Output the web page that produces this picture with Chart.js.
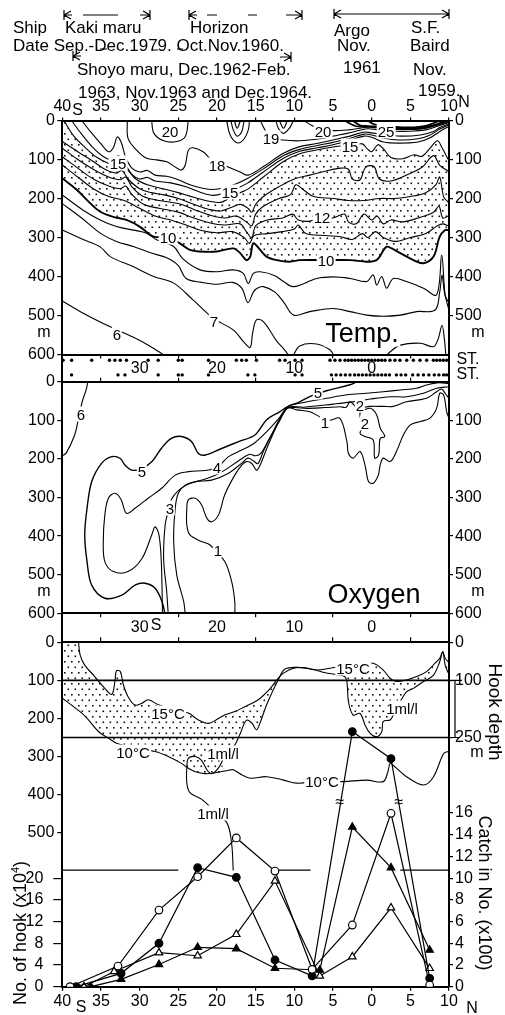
<!DOCTYPE html>
<html><head><meta charset="utf-8">
<script src="https://cdn.jsdelivr.net/npm/chart.js@4.4.1/dist/chart.umd.min.js"></script>
<style>
html,body{margin:0;padding:0;background:#fff;}
#wrap{position:relative;width:505px;height:1015px;overflow:hidden;background:#fff;font-family:'Liberation Sans',Arial,sans-serif;color:#000;}
canvas{position:absolute;left:0;top:0;}
.t{position:absolute;white-space:nowrap;line-height:1;}
.bg{background:#fff;padding:0 1px;}
svg{position:absolute;left:0;top:0;}
</style></head><body><div id="wrap">
<canvas id="cT" width="505" height="1015"></canvas>
<canvas id="cS" width="505" height="1015"></canvas>
<canvas id="cO" width="505" height="1015"></canvas>
<canvas id="cL" width="505" height="1015"></canvas>
<canvas id="cH" width="505" height="1015"></canvas>
<canvas id="cC" width="505" height="1015"></canvas>
</div>
<script>
// ================= DATA =================
const latTicks = [-40,-35,-30,-25,-20,-15,-10,-5,0,5,10];
const stripLabelLats = [-30,-20,-10,0];
const depthTicks = [0,100,200,300,400,500,600];
const hookDepthRightTicks = [0,100,250];
const hookRange = [100,250];
const hookAxisLabels = [0,4,8,12,16,20];          // No. of hook (x10^4)
const catchAxisLabels = [0,2,4,6,8,10,12,14,16];  // Catch in No. (x100)

// --- Temperature section: [latitude, depth m]
const temp6  = [[-40,463],[-37.3,494],[-33.8,529],[-30.8,556],[-28.7,578],[-26.8,602]];
const temp6b = [[-10.2,605],[-9.3,578],[-7.1,573],[-5.4,588],[-4.8,605]];
const temp6c = [[1.8,605],[2.4,593],[3.7,576],[6.3,571],[8,580],[8.6,560],[9.1,525],[9.4,560],[9.6,605]];
const temp7  = [[-40,281],[-37.3,305],[-35.1,324],[-33.8,349],[-30.8,375],[-28.2,400],[-25.6,417],[-23.1,460],[-20.5,507],[-17.9,537],[-16.4,571],[-15.7,582],[-15.4,546],[-14.9,511],[-14,516],[-12.3,565],[-11.4,585],[-10.6,605]];
const temp8  = [[-40,213],[-37.5,250],[-35,290],[-33,310],[-30.8,323],[-28.5,340],[-26.5,352],[-25,372],[-24,405],[-22,415],[-20,420],[-18,415],[-16.8,430],[-16,467],[-15.3,440],[-14.8,430],[-14,426],[-12.5,440],[-11.4,465],[-10.1,499],[-8,490],[-5,482],[-2.8,490],[-0.65,499],[1.5,502],[3.7,499],[5.8,490],[8.2,486],[8.8,440],[9.1,396],[9.4,440],[9.9,480]];
const temp9  = [[-40,191],[-37.3,230],[-35.1,255],[-33,272],[-30.8,281],[-29.1,289],[-27.8,306],[-25.6,323],[-24.4,355],[-22.2,383],[-20,388],[-17.9,383],[-16.6,392],[-15.95,418],[-15.3,392],[-14.4,388],[-12.5,398],[-11.4,413],[-10.1,426],[-7.1,405],[-5,401],[-2.8,405],[-0.65,413],[0.2,396],[0.65,422],[1.3,400],[1.94,430],[2.8,405],[4.5,413],[6.7,430],[8.4,447],[9.05,345],[9.5,447],[9.9,465]];
const temp10 = [[-40,148],[-38.1,178],[-36.4,212],[-35.1,234],[-33.4,247],[-31.7,255],[-30,272],[-28.2,298],[-26.5,298],[-24.8,315],[-23.5,332],[-22.2,336],[-20,336],[-17.9,328],[-17,340],[-16.2,358],[-15.7,349],[-15.3,315],[-14.4,332],[-13.6,349],[-12.3,358],[-10.6,362],[-9.3,358],[-5.8,358],[-2.8,358],[-0.6,362],[0.65,358],[1.9,324],[2.6,328],[3.7,340],[5.4,358],[6.7,366],[8,349],[8.8,298],[9.5,281],[9.9,281]];
const temp11 = [[-40,114],[-38,145],[-36,175],[-34,195],[-32,205],[-30,225],[-28,245],[-26,255],[-24,268],[-22,282],[-20,288],[-18,285],[-16.5,300],[-15.8,315],[-15.2,295],[-13.5,290],[-11.5,285],[-10,278],[-9.5,268],[-8.5,290],[-6,295],[-4,298],[-2.5,305],[-1.2,290],[-0.5,300],[0.5,285],[1.5,300],[3,310],[5,300],[7,290],[8.5,270],[9.2,265],[9.9,270]];
const temp12 = [[-40,93],[-38,122],[-36,150],[-34,168],[-32.5,175],[-31.8,168],[-31,190],[-29.5,215],[-27.5,225],[-25,235],[-23,250],[-21,262],[-19,268],[-17,265],[-16.2,285],[-15.5,300],[-15,270],[-13.5,255],[-11.5,250],[-10.2,240],[-9.5,255],[-8,258],[-6.5,247],[-5,250],[-3.5,240],[-3,260],[-2,265],[-1,240],[0,255],[0.7,245],[1.5,265],[2.5,255],[4,260],[6,250],[8,235],[8.7,220],[9.2,250],[9.9,245]];
const temp13 = [[-40,71],[-38,100],[-36,125],[-34,145],[-32.5,152],[-31.8,145],[-31,170],[-29.5,195],[-27.5,205],[-25,213],[-23,228],[-21,242],[-19,250],[-17.5,245],[-16.2,260],[-15.5,270],[-15,240],[-14,220],[-12,200],[-10.5,190],[-9.8,165],[-8.8,178],[-7.5,195],[-5,200],[-3,205],[-1,205],[1,200],[3,200],[5,195],[7,185],[8.3,165],[8.8,145],[9.3,195],[9.9,210]];
const temp14 = [[-40,54],[-38,80],[-36,105],[-34.5,125],[-33,135],[-32.3,128],[-31.5,150],[-30,175],[-28.5,185],[-27,190],[-25,200],[-23,215],[-21,228],[-19.5,232],[-18,222],[-17,215],[-16,225],[-15.5,235],[-15,215],[-14,195],[-12,170],[-10,150],[-8,140],[-6,130],[-4,122],[-3,125],[-2.5,150],[-1.5,152],[-0.8,120],[0.3,118],[1,150],[2.5,155],[4.5,140],[6.5,120],[8,90],[8.8,115],[9.9,130]];
const temp15 = [[-39.8,0],[-38.5,40],[-37,70],[-35.5,95],[-34,110],[-32.8,115],[-32.2,108],[-31.6,125],[-30.5,150],[-29,165],[-27,175],[-25,185],[-23,197],[-21,207],[-19.5,210],[-18.5,200],[-17,185],[-16,176],[-14,145],[-11.4,105],[-9.3,85],[-7,75],[-5,68],[-3,63],[-1.2,60],[-0.6,72],[0,80],[0.8,62],[1.5,72],[2.5,95],[4,98],[5.5,88],[6.5,92],[7.5,72],[8.5,52],[9.1,70],[9.9,100]];
const temp16 = [[-38.8,0],[-37.5,35],[-36,70],[-34.5,95],[-33.6,100],[-32.7,90],[-32.1,105],[-31,138],[-30,150],[-29,146],[-28,155],[-26,160],[-24,170],[-22,185],[-20.5,192],[-19,186],[-17.5,175],[-16,160],[-14,132],[-11.4,97],[-9.3,79],[-7,70],[-5,62],[-3,52],[-1,40],[0,43],[1.5,55],[3.5,58],[6,55],[7.5,45],[8.8,28],[9.9,16]];
const temp17 = [[-37.5,0],[-36.3,30],[-35,60],[-34,80],[-33.4,70],[-32.9,42],[-32.4,55],[-31.8,95],[-31,122],[-30,132],[-29,128],[-28,140],[-26.5,143],[-25,152],[-23.5,165],[-22,173],[-20.5,177],[-19,172],[-17.5,162],[-16,148],[-14,124],[-11.4,90],[-9.3,74],[-7,64],[-5,56],[-3,47],[-1,35],[0,37],[1.5,45],[3.5,50],[6,47],[7.5,38],[8.8,22],[9.9,12]];
const temp18 = [[-31.6,0],[-31.5,46],[-30.4,76],[-29.1,97],[-27.8,101],[-26.5,106],[-25.2,122],[-24.6,127],[-24.1,114],[-23.7,76],[-23.1,70],[-21.8,80],[-20.9,97],[-19.8,108],[-18.7,118],[-17,132],[-15.95,140],[-14,118],[-11.4,84],[-9.3,67],[-7.1,59],[-5,50],[-2.8,40],[-1.1,30],[-0.2,31],[1.5,36],[3.7,40],[6.3,37],[8,28],[8.8,18],[9.9,9]];
const temp19 = [[-14.4,0],[-13.8,24],[-13.1,43],[-11.4,50],[-9.3,52],[-6.7,47],[-5,40],[-3.2,33],[-1.5,25],[-0.5,21],[1,24],[2.5,27],[4,28],[5.5,27],[7,24],[8.5,15],[9.9,6]];
const temp20 = [[-8.8,0],[-7.8,12],[-6.5,22],[-5,26],[-3,24],[-1.5,20],[-0.5,17],[1,19],[2.5,22],[4,23],[5.5,23],[7,20],[8.5,12],[9.9,4]];
const temp21 = [[-3.5,0],[-2,15],[-0.5,15.5],[1,17.5],[2.5,20.5],[4,21.5],[5.5,21.5],[7,18.5],[8.5,10],[9.8,2]];
const temp22 = [[-2.5,0],[-1.5,12],[-0.5,14],[1,16],[2.5,19],[4,20],[5.5,20],[7,17],[8.5,9],[9.6,0]];
const temp25 = [[-0.5,0],[0.2,9],[1,12],[2.5,16],[4,17.5],[5.5,17.5],[7,14],[8,7],[8.8,0]];
const tempLoop20 = [[-28.45,0],[-28.15,33],[-26.9,52],[-25.2,54],[-24.1,41],[-23.7,0]];
const tempLoopA = [[-18.75,0],[-18.3,37],[-17.4,57],[-16.6,50],[-15.95,24],[-15.8,0]];
const tempLoopB = [[-18.2,0],[-17.9,24],[-17.4,40],[-16.8,29],[-16.5,0]];
const tempLoopC = [[-17.75,0],[-17.4,20],[-16.95,0]];
const tempLoopD = [[-12.37,0],[-12.07,20],[-11.4,33],[-10.65,20],[-10.1,0]];
const tempLoopE = [[-11.94,0],[-11.4,20],[-10.9,0]];

// --- Oxygen section (ml/l): [latitude, depth m]
const oxy1 = [[-17.7,604],[-17.7,570],[-18.1,518],[-19,466],[-20.9,423],[-22,414],[-23.5,397],[-23.9,371],[-23.9,328],[-23.7,306],[-22.8,302],[-22,319],[-21.3,354],[-20.7,363],[-19.8,345],[-19,293],[-17.7,242],[-16.8,216],[-16.2,207],[-15.5,212],[-14.9,229],[-14.4,215],[-13.5,170],[-12.4,120],[-11.5,85],[-10.8,68],[-9.7,73],[-8,78],[-6.7,91],[-5.5,100],[-4.1,95],[-3.2,155],[-3,186],[-2.4,198],[-1.5,181],[-0.86,216],[-0.4,259],[0.2,263],[0.86,242],[1.1,216],[1.5,198],[2.4,207],[3.2,181],[4.1,138],[5,112],[6.3,103],[7.5,95],[8.4,69],[8.8,30],[9.3,34],[9.7,78],[10,95]];
const oxy2 = [[-24.1,604],[-24.3,570],[-25.2,501],[-25.6,414],[-25.4,328],[-25,289],[-24.1,268],[-22.8,259],[-20.7,255],[-18.5,237],[-16.8,211],[-16,198],[-15.3,205],[-14.7,212],[-14,180],[-13,140],[-12,100],[-11,70],[-10,67],[-8.4,69],[-6,67],[-4.1,65],[-3.3,66],[-2.8,52],[-2.3,60],[-1.8,68],[-0.2,64],[1.5,64],[2.8,64],[4.5,52],[7.1,43],[8.4,26],[9.05,19],[9.5,30],[10,43]];
const oxy2loop = [[-1.5,78],[-0.2,69],[0.65,86],[1.1,120],[1.7,142],[1.1,147],[0.9,190],[0.4,198],[0.2,151],[-0.86,142],[-1.5,134],[-1.1,112],[-1.5,91],[-1.5,78]];
const oxy3 = [[-26.3,604],[-26.5,544],[-26.9,458],[-26.7,371],[-26.3,335],[-25.9,305],[-25,282],[-23.7,265],[-21.5,252],[-19.5,235],[-17.2,205],[-15.8,188],[-15,192],[-14.3,185],[-13.3,150],[-12,105],[-10.8,67],[-8.8,66],[-4.96,58],[-2.8,53],[-0.2,45],[2.4,39],[4.5,39],[6.7,30],[8.4,17],[10,13]];
const oxy4 = [[-27.06,604],[-27.06,587],[-27.2,466],[-27.5,397],[-28,376],[-28.44,397],[-29.7,458],[-31.5,492],[-33.4,492],[-34.5,466],[-34.7,414],[-34.5,345],[-34.04,302],[-33.2,289],[-32.4,305],[-31.7,341],[-30.6,328],[-28.9,302],[-27.15,276],[-25.4,242],[-23.7,233],[-21.5,230],[-20,222],[-18.5,194],[-16.8,177],[-15.1,158],[-13.5,128],[-12,95],[-10.8,64],[-9.3,56],[-5.8,43],[-3.2,34],[-0.65,30],[1.5,26],[3.7,21.5],[5.8,17],[7.1,8.5],[8.5,3],[10,5]];
const oxy5 = [[-26.7,604],[-27.1,570],[-28,535],[-29.3,522],[-30.6,527],[-32.3,553],[-34.5,561],[-36.2,527],[-36.8,466],[-37.1,397],[-36.8,328],[-36.2,259],[-34.9,211],[-33.6,194],[-32.5,199],[-31.9,216],[-31,229],[-29.8,226],[-28.4,207],[-27.2,173],[-25.9,147],[-24.6,142],[-23.3,155],[-22.4,186],[-21.5,190],[-19.4,173],[-17.2,155],[-15.1,138],[-13.6,99],[-11.9,78],[-10.8,64],[-9.3,52],[-7.5,34],[-5.4,21],[-2.8,8],[-1.9,0]];
const oxy6 = [[-36.7,0],[-36.9,20],[-37.4,50],[-37.9,95],[-38.4,138],[-39.5,185],[-40,192]];

// --- Stations (latitude)
const stationsUpper = [-39.9,-38.8,-36.2,-33.9,-33.2,-32.5,-31.7,-28.9,-27.6,-25.0,-24.5,-21.1,-17.5,-16.8,-16.2,-14.9,-11.9,-11.2,-9.9,-9.0,-5.39,-4.74,-4.09,-3.45,-3.02,-2.59,-2.16,-1.72,-1.29,-0.86,-0.43,0.0,0.43,0.86,1.3,1.73,2.37,3.02,3.66,4.53,5.39,6.25,7.11,7.98,8.41,8.84,9.27,9.7];
const stationsLower = [-38.8,-32.8,-31.9,-27.6,-25.0,-24.5,-21.1,-16.0,-15.1,-9.9,-9.0,-5.2,-4.6,-4.0,-3.4,-2.8,-2.2,-1.7,-1.2,-0.7,-0.2,0.3,0.8,1.3,1.8,2.3,3.2,3.8,4.4,5.3,6.0,6.7,7.4,8.1,8.7,9.3,9.7];

// --- Hook-depth section: [latitude, depth m]
const hook15C = [[-37.9,0],[-37.7,33],[-37.1,60],[-35.8,90],[-34.5,121],[-33.6,137],[-33.2,103],[-33,75],[-32.5,77],[-32.1,112],[-31.5,143],[-30.6,165],[-29.7,160],[-28.9,151],[-27.5,165],[-25.5,178],[-23.7,186],[-22.4,204],[-21.1,213],[-19.8,200],[-19,191],[-17.7,182],[-16.4,169],[-15.1,156],[-14.4,147],[-13.1,121],[-12.1,95],[-11.4,81],[-10.1,68],[-8.8,66.6],[-7.1,72.7],[-5.4,68],[-3.5,62],[-1.5,58],[0.2,55],[1.5,73],[2.4,95],[3.2,103],[4.5,99],[5.8,90],[7.1,77],[8.2,55],[8.8,42],[9.2,25],[9.5,42],[9.9,51]];
const hook10C = [[-40,147],[-38.8,165],[-37,195],[-35.3,235],[-34,252],[-33,265],[-30.5,278],[-28,287],[-26.3,300],[-24.6,318],[-23.7,331],[-22.8,340],[-21.5,345],[-20.5,344],[-19.5,340],[-18.5,336],[-17.9,335],[-16.8,348],[-15.7,357],[-13.6,353],[-11.4,362],[-9.7,370],[-6.7,366],[-3.7,366],[-0.65,362],[1.5,366],[2.1,340],[2.4,318],[3,327],[4.5,353],[6.7,375],[8,353],[9.3,292],[9.9,287]];
const hook1ml = [[-17.9,600],[-18.1,530],[-18.7,475],[-20.5,440],[-22,412],[-23.5,395],[-23.9,370],[-23.9,330],[-23.7,305],[-22.8,300],[-22,310],[-21.3,335],[-20.7,345],[-19.8,330],[-19,300],[-17.7,270],[-17,240],[-16.2,205],[-15.5,212],[-14.9,230],[-14.4,210],[-13.5,160],[-12,95],[-11.2,70],[-9.5,66],[-7.5,72],[-6,80],[-4.5,85],[-3.5,90],[-3.2,103],[-3,156],[-2.4,191],[-1.5,187],[-0.86,217],[-0.2,239],[0.65,248],[1.3,235],[1.5,208],[2.4,204],[2.8,191],[3.7,156],[4.5,130],[5.4,121],[6.7,103],[8,86],[8.8,51],[9.2,25],[9.5,60],[9.9,80]];
const hookBaseSegments = [[-40,-25],[-12.4,-7.9],[3.7,10]];

// --- Catch / hooks (values on the catch axis, x100)
const openCircleLat  = [-39.0,-32.8,-27.5,-22.5,-17.5,-12.5,-7.7,-2.5,2.5,7.5];
const openCircleVal  = [0,1.9,7.06,10.13,13.7,10.65,1.6,5.68,15.97,0.15];
const fullCircleLat  = [-38.2,-32.4,-27.5,-22.5,-17.5,-12.5,-7.7,-2.5,2.5,7.5];
const fullCircleVal  = [0,1.23,4.0,10.96,10.07,2.46,1.0,23.5,21.0,0.77];
const openTriLat     = [-37.2,-33.3,-27.5,-22.5,-17.5,-12.5,-6.7,-2.5,2.5,7.5];
const openTriVal     = [0,1.4,3.13,2.85,4.82,9.73,0.99,2.76,7.27,1.69];
const fullTriLat     = [-36.3,-32.4,-27.5,-22.5,-17.5,-12.5,-6.7,-2.5,2.5,7.5];
const fullTriVal     = [0,0.68,2.05,3.63,3.5,1.7,1.54,14.7,10.96,3.38];

// ================= RENDER =================
Chart.defaults.font.family = "'Liberation Sans', Arial, sans-serif";
Chart.defaults.color = '#000';
const W = 505, H = 1015, PL = 62.3, PR = 449;
const BLACK = '#000', CLEAR = 'rgba(0,0,0,0)';
const oddOnly = c => (c.tick && Math.abs(c.tick.value) % 10 === 5) ? BLACK : CLEAR;
const absLabel = v => String(Math.abs(v));
const stripLabel = v => stripLabelLats.includes(v) ? String(Math.abs(v)) : '';

function xAxis(position, height, o) {
  o = o || {};
  return {
    type: 'linear', position, min: -40, max: 10,
    afterFit: s => { s.height = height; },
    afterBuildTicks: s => { s.ticks = latTicks.map(v => ({value: v})); },
    border: {display: o.border !== false, width: 2, color: BLACK},
    grid: {display: true, drawOnChartArea: false, drawTicks: true, tickLength: o.tl ?? 4, tickWidth: 1.2, lineWidth: 1.2, color: o.odd ? oddOnly : BLACK},
    ticks: {display: !!o.label, autoSkip: false, maxRotation: 0, minRotation: 0, padding: o.pad ?? 0, font: {size: 16}, color: BLACK,
      callback: v => o.label ? o.label(v) : ''}
  };
}
function yAxis(position, ticks, o) {
  o = o || {};
  const show = ticks.length > 0;
  return {
    type: 'linear', position, min: o.min ?? 0, max: o.max ?? 600, reverse: o.reverse !== false,
    afterFit: s => { s.width = position === 'left' ? PL : W - PR; },
    afterBuildTicks: s => { s.ticks = (show ? ticks : [o.min ?? 0]).map(v => ({value: v})); },
    border: {display: true, width: 2, color: BLACK},
    grid: {display: show, drawOnChartArea: false, drawTicks: true, tickLength: o.tl ?? 5, tickWidth: 1.2, lineWidth: 1.2, color: BLACK},
    ticks: {display: show, autoSkip: false, padding: o.pad ?? 2.5, font: {size: 16}, color: BLACK,
      callback: o.label || (v => String(v))}
  };
}
const toXY = a => a.map(([x, y]) => ({x, y}));
function contour(pts, w) {
  return {data: toXY(pts), borderColor: BLACK, borderWidth: w || 1.1, pointRadius: 0, fill: false, tension: 0.35, xAxisID: 'x', yAxisID: 'y'};
}
function patch(pts, pattern) {
  return {data: toXY(pts), borderWidth: 0, borderColor: CLEAR, backgroundColor: pattern, pointRadius: 0, fill: 'shape', tension: 0.35, xAxisID: 'x', yAxisID: 'y'};
}
function dots(id) {
  const c = document.createElement('canvas'); c.width = 7; c.height = 11;
  const g = c.getContext('2d'); g.fillStyle = '#111';
  g.fillRect(1, 1, 1.6, 1.6); g.fillRect(4.5, 6.5, 1.6, 1.6);
  return document.getElementById(id).getContext('2d').createPattern(c, 'repeat');
}
function panel(id, top, bottom, topH, bottomH, scales, datasets) {
  return new Chart(document.getElementById(id), {
    type: 'line',
    data: {datasets},
    options: {
      responsive: false, animation: false, devicePixelRatio: 1, events: [],
      layout: {padding: {left: 0, right: 0, top: top - topH, bottom: H - bottom - bottomH}},
      plugins: {legend: {display: false}, tooltip: {enabled: false}},
      scales
    }
  });
}

// --- Temperature panel
const tempStipple = temp15.concat(temp10.slice().reverse());
panel('cT', 120.5, 354.5, 22, 4, {
  x: xAxis('top', 22, {label: absLabel, tl: 3, pad: 1}),
  xb: xAxis('bottom', 4, {odd: true, tl: 4}),
  y: yAxis('left', depthTicks),
  yr: yAxis('right', depthTicks.slice(0, 6), {tl: 4, pad: 2})
}, [
  patch(tempStipple, dots('cT')),
  contour(temp6), contour(temp6b), contour(temp6c), contour(temp7), contour(temp8), contour(temp9),
  contour(temp10, 1.9), contour(temp11), contour(temp12), contour(temp13), contour(temp14),
  contour(temp15), contour(temp16), contour(temp17), contour(temp18), contour(temp19),
  contour(temp20), contour(temp21, 1.6), contour(temp22, 1.6), contour(temp25, 1.8),
  contour(tempLoop20), contour(tempLoopA), contour(tempLoopB), contour(tempLoopC), contour(tempLoopD), contour(tempLoopE)
]);

// --- Station strip
function stationSet(lats, yv) {
  return {data: lats.map(x => ({x, y: yv})), showLine: false, pointRadius: 1.7, pointBackgroundColor: BLACK, pointBorderWidth: 0, xAxisID: 'x', yAxisID: 'y'};
}
panel('cS', 354.5, 381.7, 0, 0, {
  x: {type: 'linear', min: -40, max: 10, display: false},
  y: yAxis('left', [], {min: 0, max: 1, reverse: false}),
  yr: yAxis('right', [], {min: 0, max: 1, reverse: false})
}, [stationSet(stationsUpper, 0.79), stationSet(stationsLower, 0.25)]);

// --- Oxygen panel
panel('cO', 381.7, 613.3, 22, 4, {
  x: xAxis('top', 22, {label: stripLabel, odd: true, tl: 4, pad: 0}),
  xb: xAxis('bottom', 4, {odd: true, tl: 4}),
  y: yAxis('left', depthTicks),
  yr: yAxis('right', depthTicks.slice(1), {tl: 4, pad: 2})
}, [contour(oxy1), contour(oxy2), contour(oxy2loop), contour(oxy3), contour(oxy4), contour(oxy5, 1.4), contour(oxy6)]);

// --- Latitude strip
panel('cL', 613.3, 642.3, 0, 0, {
  x: {type: 'linear', min: -40, max: 10, display: false},
  y: yAxis('left', [], {min: 0, max: 1}),
  yr: yAxis('right', [], {min: 0, max: 1})
}, []);

// --- Hook depth panel
const hIdx19 = hook1ml.findIndex(p => p[0] === -19);
const hIdxConv = hook1ml.findIndex(p => p[0] === -11.2);
const hookStippleSouth = hook10C.filter(p => p[0] <= -19.5)
  .concat(hook1ml.slice(hIdx19, hIdxConv + 1))
  .concat(hook15C.filter(p => p[0] <= -11.4).reverse())
  .concat([[-40, 0]]);
const hookStippleNorth = hook15C.filter(p => p[0] >= -3.5)
  .concat(hook1ml.filter(p => p[0] >= -3.2).reverse());
const hPat = dots('cH');
const hookLines = hookRange.map(d => ({data: toXY([[-40, d], [10, d]]), borderColor: BLACK, borderWidth: 1.6, pointRadius: 0, fill: false, xAxisID: 'x', yAxisID: 'y'}));
const hookBase = hookBaseSegments.map(([a, b]) => ({data: toXY([[a, 600], [b, 600]]), borderColor: BLACK, borderWidth: 2.2, pointRadius: 0, fill: false, xAxisID: 'x', yAxisID: 'y'}));
panel('cH', 642.3, 870.7, 22, 0, {
  x: xAxis('top', 22, {label: stripLabel, odd: true, tl: 5, pad: 0}),
  y: yAxis('left', depthTicks.slice(0, 6), {pad: 3}),
  yr: yAxis('right', hookDepthRightTicks, {tl: 4, pad: 2})
}, [patch(hookStippleSouth, hPat), patch(hookStippleNorth, hPat),
    contour(hook15C), contour(hook10C), contour(hook1ml)].concat(hookLines, hookBase));

// --- Catch / hook numbers panel
function series(lats, vals, style, filled) {
  return {data: lats.map((x, i) => ({x, y: vals[i]})), borderColor: BLACK, borderWidth: 1.2, tension: 0, fill: false,
    pointStyle: style, pointRadius: style === 'triangle' ? 4.3 : 3.8, pointBorderWidth: 1.2,
    pointBackgroundColor: filled ? BLACK : '#fff', pointBorderColor: BLACK, xAxisID: 'x', yAxisID: 'yr'};
}
panel('cC', 726.1, 986.7, 0, 24, {
  x: xAxis('bottom', 24, {label: absLabel, tl: 4, pad: 1}),
  y: yAxis('left', hookAxisLabels.map(v => v / 2), {min: 0, max: 24, reverse: false, tl: 9, pad: 10, label: v => String(v * 2)}),
  yr: yAxis('right', catchAxisLabels, {min: 0, max: 24, reverse: false, tl: 4, pad: 2})
}, [
  series(openCircleLat, openCircleVal, 'circle', false),
  series(fullCircleLat, fullCircleVal, 'circle', true),
  series(openTriLat, openTriVal, 'triangle', false),
  series(fullTriLat, fullTriVal, 'triangle', true)
]);

// ================= TEXT =================
const wrap = document.getElementById('wrap');
function txt(s, x, y, size, o) {
  o = o || {};
  const d = document.createElement('div');
  d.className = 't' + (o.bg ? ' bg' : '');
  d.innerHTML = s;
  d.style.left = x + 'px'; d.style.top = y + 'px'; d.style.fontSize = size + 'px';
  let tr = o.corner ? '' : 'translate(-50%,-50%) ';
  if (o.rot) tr += 'rotate(' + o.rot + 'deg)';
  d.style.transform = tr;
  wrap.appendChild(d);
}
// header
[['Ship',13,19],['Kaki maru',65,19],['Horizon',190,19],['Argo',334,22],['S.F.',411,19],
 ['Date Sep.-Dec.1979. Oct.Nov.1960.',13,37],['Nov.',337,37],['Baird',410,37],
 ['Shoyo maru, Dec.1962-Feb.',77,61],['1961',343,59],['Nov.',413,61],
 ['1963, Nov.1963 and Dec.1964.',78,84],['1959.',418,82]].forEach(([s,x,y]) => txt(s, x, y, 17, {corner: true}));
// contour labels
[['20',170,131],['15',118,163],['18',217,165],['19',271,138],['20',323,131],['25',386,131],['15',350,146],
 ['15',230,192],['12',322,217],['10',168,237],['10',326,260],['7',214,321],['6',117,334],
 ['6',81,414],['5',142,471],['4',217,467],['3',170,508],['1',218,550],['5',318,392],['2',360,405],['1',325,422],['2',365,423],
 ['15°C',168,713],['10°C',133,752],['1ml/l',223,753],['15°C',353,668],['1ml/l',402,708],['10°C',322,781],['1ml/l',213,813]
].forEach(([s,x,y]) => txt(s, x, y, 15, {bg: true}));
txt('Temp.', 362, 333, 27, {bg: true});
txt('Oxygen', 374, 594, 27, {bg: true});
// axis extras
[['m',44,332],['m',478,332],['m',44,591],['m',478,591],['m',477,752],['ST.',468,359],['ST.',468,374],
 ['S',77.5,110],['N',464,102],['S',156,625],['S',81,1007],['N',472,1008],['≈',340,802],['≈',399,802]
].forEach(([s,x,y]) => txt(s, x, y, 16));
txt('Hook depth', 495, 712, 19, {rot: 90});
txt('Catch in No. (x100)', 485, 893, 18, {rot: 90});
txt('No. of hook (x10<sup style="font-size:11px">4</sup>)', 19, 933, 18, {rot: -90});

// header arrows and right bracket (decoration)
wrap.insertAdjacentHTML('beforeend',
 '<svg width="505" height="1015" stroke="#000" stroke-width="1.2" fill="none">' +
 '<path d="M64 10V20M64 15L71 11M64 15L71 19M64 15H72M83 15H118M140 15H150M150 10V20M150 15L143 11M150 15L143 19"/>' +
 '<path d="M189 10V20M189 15L196 11M189 15L196 19M189 15H197M207 15H217M248 15H257M286 15H302M302 10V20M302 15L295 11M302 15L295 19"/>' +
 '<path d="M334 9V19M334 14L341 10M334 14L341 18M334 14H449M449 9V19M449 14L442 10M449 14L442 18"/>' +
 '<path d="M73 51V61M73 56L80 52M73 56L80 60M73 56H81M100 49H107M152 50H158M177 49H183M280 57H291M291 52V62M291 57L284 53M291 57L284 61"/>' +
 '<path d="M449 680.4H455V737.5H449M449 680.4H462M449 737.5H460"/>' +
 '</svg>');
</script>
</body></html>
